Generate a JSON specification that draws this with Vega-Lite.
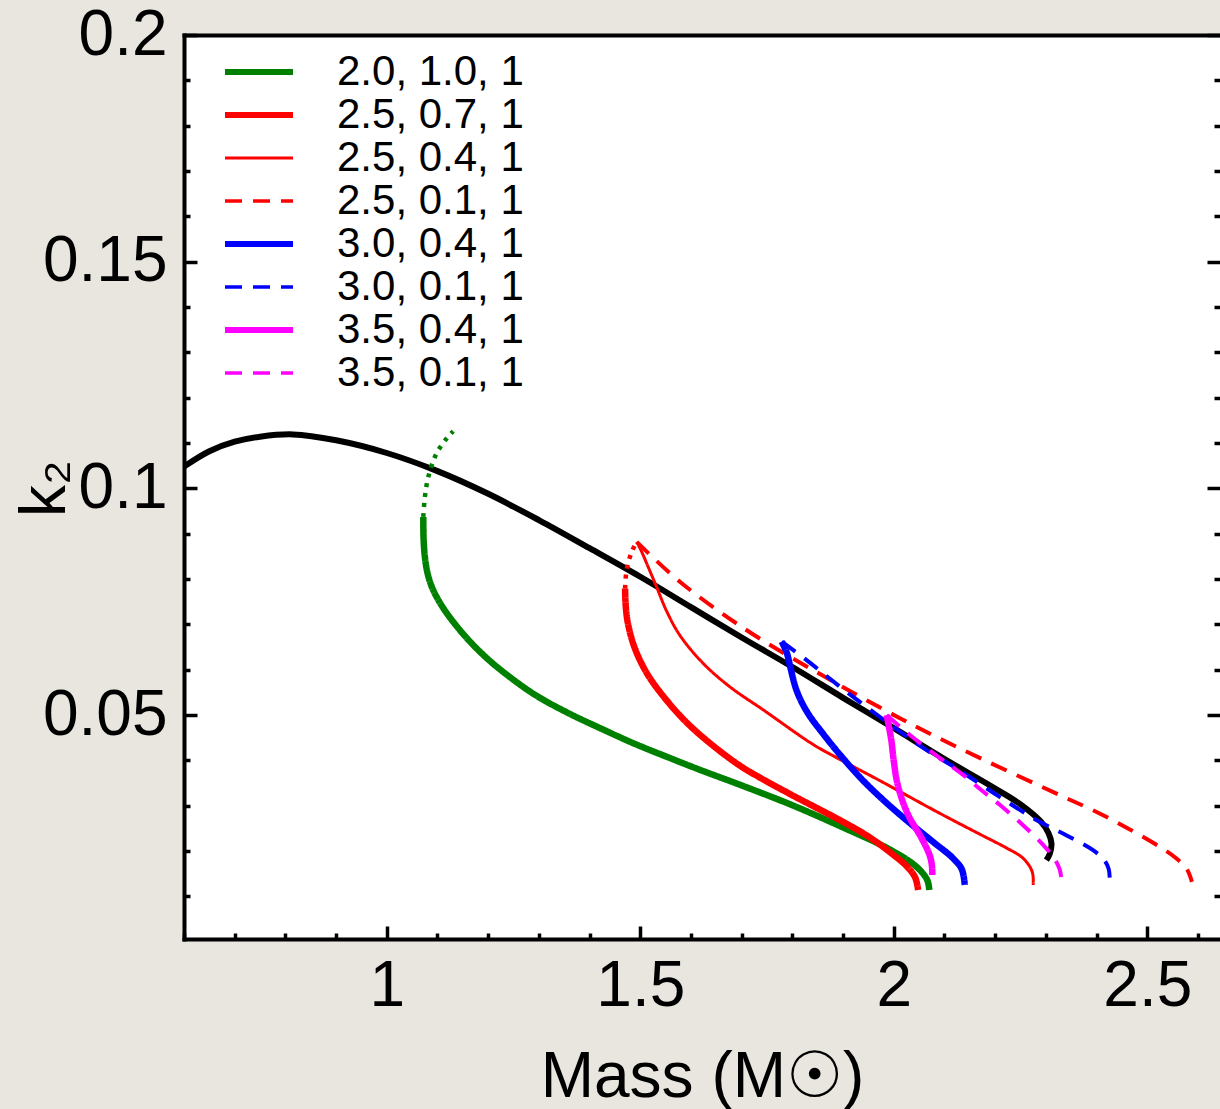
{
  "$schema": "https://vega.github.io/schema/vega-lite/v6.json",
  "width": 1036,
  "height": 904,
  "autosize": {"type": "none"},
  "padding": {"left": 184, "top": 35, "right": 0, "bottom": 170},
  "background": "#E8E6DF",
  "config": {
    "view": {"fill": "white", "stroke": null},
    "font": "Liberation Sans",
    "axis": {
      "domainColor": "black", "domainWidth": 4, "domainCap": "square",
      "tickColor": "black", "tickWidth": 3.5, "grid": false,
      "labelFont": "Liberation Sans", "labelFontSize": 64, "labelColor": "black",
      "labelFlush": false, "labelOverlap": false, "labelBound": false,
      "titleFont": "Liberation Sans", "titleFontSize": 64, "titleFontWeight": "normal", "titleColor": "black",
      "zindex": 1
    }
  },
  "datasets": {
    "blk": [
      {"x":0.6,"y":0.1048},{"x":0.65,"y":0.1082},{"x":0.7,"y":0.1103},{"x":0.75,"y":0.1114},{"x":0.815,"y":0.1119},{"x":0.9,"y":0.1106},{"x":1.0,"y":0.1078},{"x":1.1,"y":0.1038},{"x":1.2,"y":0.0988},{"x":1.3,"y":0.093},{"x":1.4,"y":0.0868},{"x":1.5,"y":0.0805},{"x":1.6,"y":0.0738},{"x":1.7,"y":0.0671},{"x":1.8,"y":0.0606},{"x":1.9,"y":0.0538},{"x":2.0,"y":0.0471},{"x":2.1,"y":0.0403},{"x":2.2,"y":0.0338},{"x":2.25,"y":0.0303},{"x":2.29,"y":0.0265},{"x":2.305,"y":0.024},{"x":2.311,"y":0.0217},{"x":2.308,"y":0.0195},{"x":2.301,"y":0.018}
    ],
    "cur": [
      {"s":"2.0, 1.0, 1","x":1.072,"y":0.0937},{"s":"2.0, 1.0, 1","x":1.0725,"y":0.089},{"s":"2.0, 1.0, 1","x":1.075,"y":0.085},{"s":"2.0, 1.0, 1","x":1.08,"y":0.0815},{"s":"2.0, 1.0, 1","x":1.088,"y":0.0785},{"s":"2.0, 1.0, 1","x":1.1,"y":0.0757},{"s":"2.0, 1.0, 1","x":1.115,"y":0.073},{"s":"2.0, 1.0, 1","x":1.135,"y":0.07},{"s":"2.0, 1.0, 1","x":1.16,"y":0.0667},{"s":"2.0, 1.0, 1","x":1.19,"y":0.0633},{"s":"2.0, 1.0, 1","x":1.223,"y":0.0601},{"s":"2.0, 1.0, 1","x":1.289,"y":0.0547},{"s":"2.0, 1.0, 1","x":1.355,"y":0.0506},{"s":"2.0, 1.0, 1","x":1.421,"y":0.0471},{"s":"2.0, 1.0, 1","x":1.486,"y":0.0438},{"s":"2.0, 1.0, 1","x":1.552,"y":0.0408},{"s":"2.0, 1.0, 1","x":1.618,"y":0.0379},{"s":"2.0, 1.0, 1","x":1.697,"y":0.0346},{"s":"2.0, 1.0, 1","x":1.8,"y":0.0301},{"s":"2.0, 1.0, 1","x":1.894,"y":0.0255},{"s":"2.0, 1.0, 1","x":1.993,"y":0.0203},{"s":"2.0, 1.0, 1","x":2.045,"y":0.0165},{"s":"2.0, 1.0, 1","x":2.066,"y":0.0136},{"s":"2.0, 1.0, 1","x":2.07,"y":0.0114},
      {"s":"2.5, 0.7, 1","x":1.47,"y":0.0779},{"s":"2.5, 0.7, 1","x":1.471,"y":0.0745},{"s":"2.5, 0.7, 1","x":1.475,"y":0.0706},{"s":"2.5, 0.7, 1","x":1.488,"y":0.0651},{"s":"2.5, 0.7, 1","x":1.512,"y":0.0594},{"s":"2.5, 0.7, 1","x":1.545,"y":0.0542},{"s":"2.5, 0.7, 1","x":1.591,"y":0.0484},{"s":"2.5, 0.7, 1","x":1.644,"y":0.0432},{"s":"2.5, 0.7, 1","x":1.697,"y":0.0388},{"s":"2.5, 0.7, 1","x":1.736,"y":0.0362},{"s":"2.5, 0.7, 1","x":1.8,"y":0.0323},{"s":"2.5, 0.7, 1","x":1.894,"y":0.0268},{"s":"2.5, 0.7, 1","x":1.95,"y":0.0232},{"s":"2.5, 0.7, 1","x":1.993,"y":0.0197},{"s":"2.5, 0.7, 1","x":2.025,"y":0.0167},{"s":"2.5, 0.7, 1","x":2.042,"y":0.0142},{"s":"2.5, 0.7, 1","x":2.048,"y":0.0114},
      {"s":"2.5, 0.4, 1","x":1.493,"y":0.0882},{"s":"2.5, 0.4, 1","x":1.502,"y":0.0862},{"s":"2.5, 0.4, 1","x":1.515,"y":0.0828},{"s":"2.5, 0.4, 1","x":1.532,"y":0.0783},{"s":"2.5, 0.4, 1","x":1.552,"y":0.0729},{"s":"2.5, 0.4, 1","x":1.578,"y":0.0676},{"s":"2.5, 0.4, 1","x":1.624,"y":0.0614},{"s":"2.5, 0.4, 1","x":1.677,"y":0.0562},{"s":"2.5, 0.4, 1","x":1.743,"y":0.0511},{"s":"2.5, 0.4, 1","x":1.841,"y":0.0435},{"s":"2.5, 0.4, 1","x":1.894,"y":0.0402},{"s":"2.5, 0.4, 1","x":1.973,"y":0.0355},{"s":"2.5, 0.4, 1","x":2.091,"y":0.0283},{"s":"2.5, 0.4, 1","x":2.17,"y":0.0237},{"s":"2.5, 0.4, 1","x":2.222,"y":0.0207},{"s":"2.5, 0.4, 1","x":2.252,"y":0.0187},{"s":"2.5, 0.4, 1","x":2.267,"y":0.0168},{"s":"2.5, 0.4, 1","x":2.274,"y":0.015},{"s":"2.5, 0.4, 1","x":2.275,"y":0.0125},
      {"s":"2.5, 0.1, 1","x":1.493,"y":0.0882},{"s":"2.5, 0.1, 1","x":1.578,"y":0.0794},{"s":"2.5, 0.1, 1","x":1.71,"y":0.0687},{"s":"2.5, 0.1, 1","x":1.841,"y":0.0599},{"s":"2.5, 0.1, 1","x":2.012,"y":0.0493},{"s":"2.5, 0.1, 1","x":2.131,"y":0.0426},{"s":"2.5, 0.1, 1","x":2.328,"y":0.0323},{"s":"2.5, 0.1, 1","x":2.393,"y":0.029},{"s":"2.5, 0.1, 1","x":2.46,"y":0.0251},{"s":"2.5, 0.1, 1","x":2.525,"y":0.0209},{"s":"2.5, 0.1, 1","x":2.557,"y":0.0184},{"s":"2.5, 0.1, 1","x":2.578,"y":0.016},{"s":"2.5, 0.1, 1","x":2.588,"y":0.0132},
      {"s":"3.0, 0.4, 1","x":1.779,"y":0.0662},{"s":"3.0, 0.4, 1","x":1.789,"y":0.0637},{"s":"3.0, 0.4, 1","x":1.796,"y":0.0605},{"s":"3.0, 0.4, 1","x":1.809,"y":0.0552},{"s":"3.0, 0.4, 1","x":1.83,"y":0.0505},{"s":"3.0, 0.4, 1","x":1.861,"y":0.0458},{"s":"3.0, 0.4, 1","x":1.895,"y":0.0411},{"s":"3.0, 0.4, 1","x":1.933,"y":0.0363},{"s":"3.0, 0.4, 1","x":1.975,"y":0.0317},{"s":"3.0, 0.4, 1","x":2.025,"y":0.0268},{"s":"3.0, 0.4, 1","x":2.08,"y":0.0218},{"s":"3.0, 0.4, 1","x":2.115,"y":0.0186},{"s":"3.0, 0.4, 1","x":2.134,"y":0.016},{"s":"3.0, 0.4, 1","x":2.14,"y":0.0125},
      {"s":"3.0, 0.1, 1","x":1.779,"y":0.0662},{"s":"3.0, 0.1, 1","x":1.828,"y":0.0621},{"s":"3.0, 0.1, 1","x":1.914,"y":0.0545},{"s":"3.0, 0.1, 1","x":2.052,"y":0.0432},{"s":"3.0, 0.1, 1","x":2.131,"y":0.0377},{"s":"3.0, 0.1, 1","x":2.208,"y":0.032},{"s":"3.0, 0.1, 1","x":2.282,"y":0.0268},{"s":"3.0, 0.1, 1","x":2.34,"y":0.0235},{"s":"3.0, 0.1, 1","x":2.393,"y":0.0202},{"s":"3.0, 0.1, 1","x":2.415,"y":0.018},{"s":"3.0, 0.1, 1","x":2.424,"y":0.016},{"s":"3.0, 0.1, 1","x":2.426,"y":0.0132},
      {"s":"3.5, 0.4, 1","x":1.986,"y":0.05},{"s":"3.5, 0.4, 1","x":1.995,"y":0.0445},{"s":"3.5, 0.4, 1","x":2.0,"y":0.0398},{"s":"3.5, 0.4, 1","x":2.008,"y":0.0345},{"s":"3.5, 0.4, 1","x":2.027,"y":0.0283},{"s":"3.5, 0.4, 1","x":2.055,"y":0.0228},{"s":"3.5, 0.4, 1","x":2.07,"y":0.0193},{"s":"3.5, 0.4, 1","x":2.075,"y":0.017},{"s":"3.5, 0.4, 1","x":2.076,"y":0.0147},
      {"s":"3.5, 0.1, 1","x":1.986,"y":0.05},{"s":"3.5, 0.1, 1","x":2.025,"y":0.0462},{"s":"3.5, 0.1, 1","x":2.091,"y":0.0405},{"s":"3.5, 0.1, 1","x":2.131,"y":0.0373},{"s":"3.5, 0.1, 1","x":2.17,"y":0.0337},{"s":"3.5, 0.1, 1","x":2.209,"y":0.0302},{"s":"3.5, 0.1, 1","x":2.255,"y":0.0257},{"s":"3.5, 0.1, 1","x":2.295,"y":0.0213},{"s":"3.5, 0.1, 1","x":2.316,"y":0.0185},{"s":"3.5, 0.1, 1","x":2.327,"y":0.016},{"s":"3.5, 0.1, 1","x":2.331,"y":0.0136}
    ],
    "dot": [
      {"s":"g","x":1.072,"y":0.0937},{"s":"g","x":1.075,"y":0.098},{"s":"g","x":1.082,"y":0.1026},{"s":"g","x":1.098,"y":0.1077},{"s":"g","x":1.118,"y":0.111},{"s":"g","x":1.131,"y":0.1126},
      {"s":"r","x":1.47,"y":0.0779},{"s":"r","x":1.473,"y":0.082},{"s":"r","x":1.483,"y":0.086},{"s":"r","x":1.493,"y":0.0882}
    ]
  },
  "layer": [
    {
      "data": {"name": "blk"},
      "mark": {"type": "line", "color": "black", "strokeWidth": 6, "clip": true, "interpolate": "catmull-rom"},
      "encoding": {
        "x": {"field": "x", "type": "quantitative",
          "scale": {"domain": [0.6, 2.6434], "nice": false, "zero": false},
          "axis": {"orient": "bottom",
            "values": [0.6,0.7,0.8,0.9,1,1.1,1.2,1.3,1.4,1.5,1.6,1.7,1.8,1.9,2,2.1,2.2,2.3,2.4,2.5,2.6],
            "tickSize": {"condition": {"test": "abs(datum.value*2-round(datum.value*2))<0.000001", "value": -13}, "value": -6},
            "labelExpr": "abs(datum.value*2-round(datum.value*2))<0.000001 ? toString(datum.value) : ''",
            "labelPadding": 28,
            "title": "Mass (M☉)", "titleX": 518, "titleY": 157, "titleAlign": "center", "titleBaseline": "alphabetic"}},
        "y": {"field": "y", "type": "quantitative",
          "scale": {"domain": [0.0006, 0.2], "nice": false, "zero": false},
          "axis": {"orient": "left",
            "values": [0.01,0.02,0.03,0.04,0.05,0.06,0.07,0.08,0.09,0.1,0.11,0.12,0.13,0.14,0.15,0.16,0.17,0.18,0.19,0.2],
            "tickSize": {"condition": {"test": "abs(datum.value*20-round(datum.value*20))<0.000001", "value": -13}, "value": -6},
            "labelExpr": "abs(datum.value*20-round(datum.value*20))<0.000001 ? toString(datum.value) : ''",
            "labelPadding": 30,
            "title": "k₂", "titleAngle": 270, "titleX": -120, "titleY": 453, "titleAlign": "center", "titleBaseline": "alphabetic"}},
        "order": {"value": null}
      }
    },
    {
      "data": {"name": "cur"},
      "mark": {"type": "line", "clip": true, "interpolate": "catmull-rom"},
      "encoding": {
        "x": {"field": "x", "type": "quantitative",
          "axis": {"orient": "top", "ticks": false, "labels": false, "title": null, "domain": true}},
        "y": {"field": "y", "type": "quantitative",
          "axis": {"orient": "right", "domain": false, "labels": false, "title": null,
            "values": [0.01,0.02,0.03,0.04,0.05,0.06,0.07,0.08,0.09,0.1,0.11,0.12,0.13,0.14,0.15,0.16,0.17,0.18,0.19,0.2],
            "tickSize": {"condition": {"test": "abs(datum.value*20-round(datum.value*20))<0.000001", "value": -13}, "value": -6}}},
        "color": {"field": "s", "type": "nominal",
          "scale": {"domain": ["2.0, 1.0, 1","2.5, 0.7, 1","2.5, 0.4, 1","2.5, 0.1, 1","3.0, 0.4, 1","3.0, 0.1, 1","3.5, 0.4, 1","3.5, 0.1, 1"],
                    "range": ["#008000","#FF0000","#FF0000","#FF0000","#0000FF","#0000FF","#FF00FF","#FF00FF"]},
          "legend": {"orient": "none", "legendX": 54, "legendY": 16, "title": null, "padding": 0,
            "symbolType": "stroke", "symbolSize": 4624, "symbolStrokeWidth": 6,
            "labelFont": "Liberation Sans", "labelFontSize": 42, "labelColor": "black", "labelOffset": 57, "labelLimit": 0,
            "rowPadding": 1,
            "encode": {"symbols": {"update": {
              "strokeWidth": {"signal": "datum.value === '2.5, 0.4, 1' ? 3 : (indexof(['2.5, 0.1, 1','3.0, 0.1, 1','3.5, 0.1, 1'], datum.value) >= 0 ? 3.5 : 6)"},
              "strokeDash": {"signal": "indexof(['2.5, 0.1, 1','3.0, 0.1, 1','3.5, 0.1, 1'], datum.value) >= 0 ? [17, 11] : [1, 0]"}
            }}}}},
        "strokeDash": {"field": "s", "type": "nominal", "legend": null,
          "scale": {"domain": ["2.0, 1.0, 1","2.5, 0.7, 1","2.5, 0.4, 1","2.5, 0.1, 1","3.0, 0.4, 1","3.0, 0.1, 1","3.5, 0.4, 1","3.5, 0.1, 1"],
                    "range": [[1,0],[1,0],[1,0],[17,11],[1,0],[17,11],[1,0],[17,11]]}},
        "strokeWidth": {"condition": [
            {"test": "datum.s === '2.5, 0.4, 1'", "value": 3},
            {"test": "indexof(['2.5, 0.1, 1','3.0, 0.1, 1','3.5, 0.1, 1'], datum.s) >= 0", "value": 4}],
          "value": 6.5},
        "order": {"value": null}
      }
    },
    {
      "data": {"name": "dot"},
      "transform": [{"filter": "datum.s === 'g'"}],
      "mark": {"type": "line", "color": "#008000", "strokeWidth": 4.5, "strokeDash": [4, 6], "clip": true, "interpolate": "catmull-rom"},
      "encoding": {
        "x": {"field": "x", "type": "quantitative", "axis": null},
        "y": {"field": "y", "type": "quantitative", "axis": null},
        "order": {"value": null}
      }
    },
    {
      "data": {"name": "dot"},
      "transform": [{"filter": "datum.s === 'r'"}],
      "mark": {"type": "line", "color": "#FF0000", "strokeWidth": 4.5, "strokeDash": [4, 6], "clip": true, "interpolate": "catmull-rom"},
      "encoding": {
        "x": {"field": "x", "type": "quantitative", "axis": null},
        "y": {"field": "y", "type": "quantitative", "axis": null},
        "order": {"value": null}
      }
    }
  ],
  "resolve": {"axis": {"x": "independent", "y": "independent"}}
}
